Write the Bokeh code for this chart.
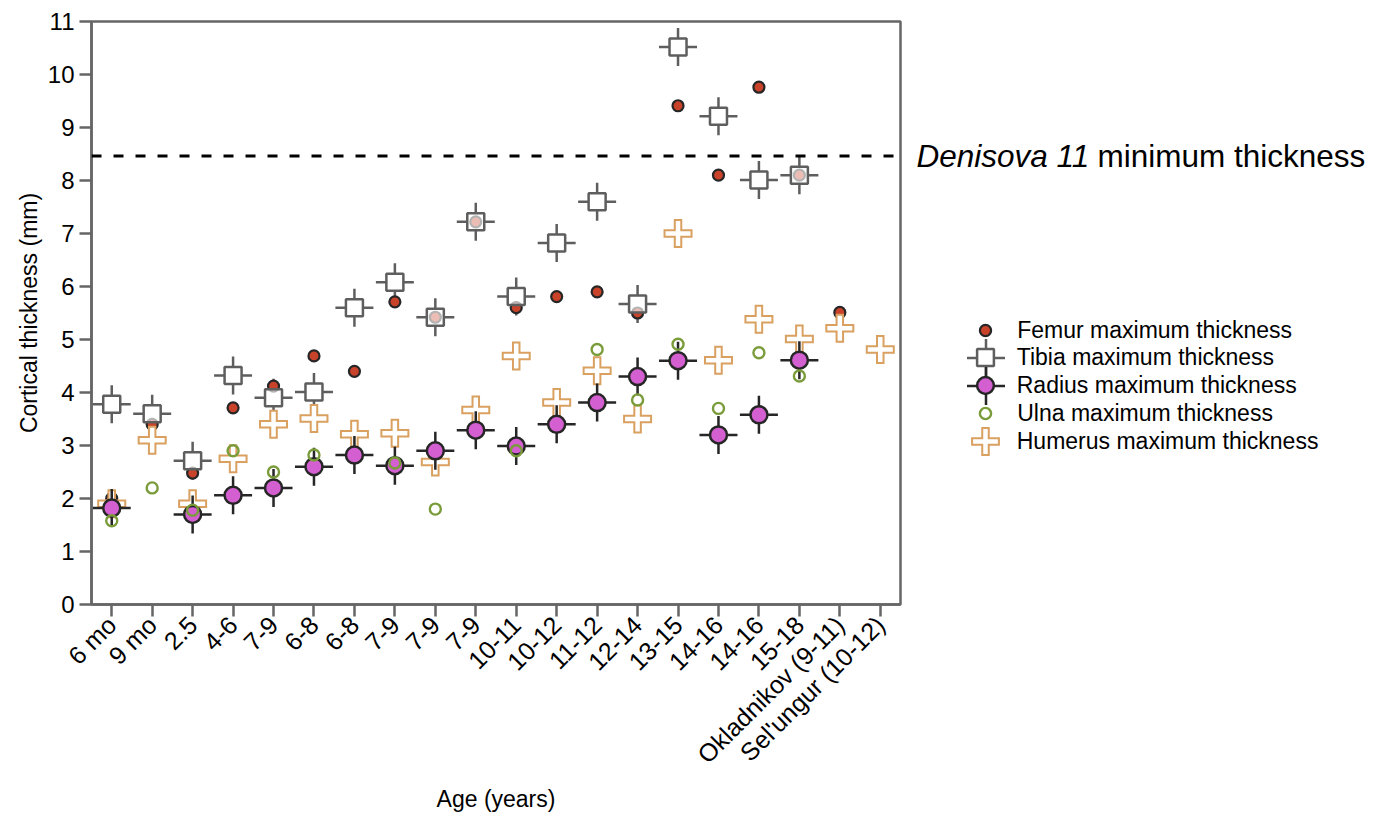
import math
from bokeh.plotting import figure
from bokeh.layouts import row
from bokeh.models import (ColumnDataSource, FixedTicker, Span, Label, Legend, LegendItem, Range1d)
from bokeh.embed import file_html
from bokeh.resources import INLINE

nan = float("nan")

# ---------------- data ----------------
ages = ["6 mo", "9 mo", "2.5", "4-6", "7-9", "6-8", "6-8", "7-9", "7-9", "7-9",
        "10-11", "10-12", "11-12", "12-14", "13-15", "14-16", "14-16", "15-18",
        "Okladnikov (9-11)", "Sel'ungur (10-12)"]
femur = [2.0, 3.4, 2.48, 3.71, 4.12, 4.69, 4.4, 5.71, 5.42, 7.22,
         5.6, 5.81, 5.9, 5.5, 9.41, 8.1, 9.76, 8.1, 5.51, nan]
tibia = [3.78, 3.6, 2.71, 4.32, 3.9, 4.01, 5.6, 6.08, 5.42, 7.22,
         5.81, 6.82, 7.6, 5.67, 10.52, 9.21, 8.01, 8.1, nan, nan]
radius = [1.82, nan, 1.7, 2.06, 2.2, 2.6, 2.82, 2.62, 2.9, 3.29,
          2.99, 3.4, 3.81, 4.3, 4.6, 3.2, 3.58, 4.61, nan, nan]
ulna = [1.58, 2.2, 1.78, 2.9, 2.5, 2.82, nan, 2.67, 1.8, nan,
        2.9, nan, 4.81, 3.86, 4.91, 3.7, 4.75, 4.31, nan, nan]
humerus = [1.9, 3.1, 1.9, 2.75, 3.4, 3.51, 3.21, 3.23, 2.69, 3.67,
           4.69, 3.81, 4.41, 3.5, 7.0, 4.61, 5.38, 5.01, 5.21, 4.81]
y_ticks = list(range(0, 12))
denisova_min = 8.46

series_names = ["Femur maximum thickness", "Tibia maximum thickness",
                "Radius maximum thickness", "Ulna maximum thickness",
                "Humerus maximum thickness"]

# ---------------- layout ----------------
W, H = 1373, 818
FL, FR, FT, FB = 91, 900, 21, 604   # main frame edges in canvas px
P1W = FR + 3                         # width of the main figure
P2W = W - P1W                        # right-hand panel (label + legend)
FONT = "Liberation Sans"

x_idx = list(range(len(ages)))
src = ColumnDataSource(dict(x=x_idx, femur=femur, tibia=tibia, radius=radius,
                            ulna=ulna, humerus=humerus))

y_range = Range1d(0, 11)
p = figure(width=P1W, height=H, output_backend="svg", toolbar_location=None,
           x_range=Range1d(-0.5, len(ages) - 0.5), y_range=y_range,
           min_border_left=FL, min_border_right=P1W - FR,
           min_border_top=FT, min_border_bottom=H - FB)
p.xgrid.visible = False
p.ygrid.visible = False
p.background_fill_color = "white"
p.border_fill_color = "white"
p.outline_line_color = "#666666"
p.outline_line_width = 2.5

AX = "#666666"
for ax in (p.xaxis[0], p.yaxis[0]):
    ax.axis_line_color = AX
    ax.axis_line_width = 2.5
    ax.major_tick_line_color = AX
    ax.major_tick_line_width = 2.5
    ax.major_tick_in = 0
    ax.major_tick_out = 12
    ax.minor_tick_line_color = None
    ax.major_label_text_font = FONT
    ax.major_label_text_color = "black"
    ax.axis_label_text_font = FONT
    ax.axis_label_text_font_size = "23px"
    ax.axis_label_text_font_style = "normal"
    ax.axis_label_text_color = "black"

p.yaxis.ticker = FixedTicker(ticks=y_ticks)
p.yaxis.axis_label = "Cortical thickness (mm)"
p.yaxis.major_label_text_font_size = "24px"
p.yaxis.major_label_standoff = 5
p.yaxis.axis_label_standoff = 3

p.xaxis.ticker = FixedTicker(ticks=x_idx)
p.xaxis.major_label_overrides = {i: lab for i, lab in enumerate(ages)}
p.xaxis.major_label_orientation = math.pi / 4
p.xaxis.major_label_text_font_size = "25px"
p.xaxis.axis_label = "Age (years)"
p.xaxis.major_label_standoff = 4
p.xaxis.axis_label_standoff = 4

# dashed reference line
p.add_layout(Span(location=denisova_min, dimension="width", line_color="black",
                  line_width=3, line_dash="10 12"))

# colours / styles
C_FEM = "#c9432b"
C_TIB = "#5e5e5e"
C_RAD = "#d35fd1"
C_ULN = "#7a9c3a"
C_HUM = "#d9a060"
C_DARK = "#262626"

styles = {
    "tib_x": dict(marker="cross", size=38, line_color=C_TIB, line_width=2.5),
    "tib_bg": dict(marker="square", size=17, fill_color="white", line_color=None),
    "fem": dict(marker="circle", size=11, fill_color=C_FEM, line_color=C_DARK, line_width=2.2),
    "tib_s": dict(marker="square", size=17, fill_color="white", fill_alpha=0.65,
                  line_color=C_TIB, line_width=2.5),
    "hum_o": dict(marker="cross", size=29, line_color=C_HUM, line_width=8.5),
    "hum_i": dict(marker="cross", size=25, line_color="white", line_width=4.5),
    "rad_x": dict(marker="cross", size=38, line_color=C_DARK, line_width=2.5),
    "rad_c": dict(marker="circle", size=17, fill_color=C_RAD, line_color=C_DARK, line_width=2.5),
    "uln": dict(marker="circle", size=11, fill_color="white", fill_alpha=0.0,
                line_color=C_ULN, line_width=2.4),
}
columns = {"fem": "femur", "tib_x": "tibia", "tib_bg": "tibia", "tib_s": "tibia",
           "hum_o": "humerus", "hum_i": "humerus", "rad_x": "radius", "rad_c": "radius",
           "uln": "ulna"}
draw_order = ["tib_x", "tib_bg", "fem", "tib_s", "hum_o", "hum_i", "rad_x", "rad_c", "uln"]
for key in draw_order:
    p.scatter("x", columns[key], source=src, **styles[key])

# ---------------- right panel: reference-line label and legend ----------------
p2 = figure(width=P2W, height=H, output_backend="svg", toolbar_location=None,
            x_range=Range1d(0, P2W), y_range=y_range,
            x_axis_type=None, y_axis_type=None,
            min_border_left=0, min_border_right=0,
            min_border_top=FT, min_border_bottom=H - FB)
p2.xgrid.visible = False
p2.ygrid.visible = False
p2.outline_line_color = None
p2.background_fill_color = "white"
p2.border_fill_color = "white"

p2.add_layout(Label(x=916 - P1W, y=denisova_min, text="Denisova 11",
                    text_font=FONT, text_font_size="31.5px", text_font_style="italic",
                    text_baseline="middle", text_color="black"))
p2.add_layout(Label(x=1097 - P1W, y=denisova_min, text="minimum thickness",
                    text_font=FONT, text_font_size="31.5px",
                    text_baseline="middle", text_color="black"))

LEG_X = 985
LEG_TEXT_X = 1017
row_y = [330, 357, 385, 413, 441]
parts = [  # (series index, style key, carries label)
    (0, "fem", True),
    (1, "tib_x", False), (1, "tib_s", True),
    (2, "rad_x", False), (2, "rad_c", True),
    (3, "uln", True),
    (4, "hum_o", False), (4, "hum_i", True),
]
for si, key, has_label in parts:
    st = dict(styles[key])
    if key == "tib_s":
        st["fill_alpha"] = 1.0
    rend = p2.scatter(x=[nan], y=[nan], **st)
    size = st["size"]
    gw = size / 0.4
    gh = max(gw, 40)
    cy = row_y[si]
    leg = Legend(items=[LegendItem(label=series_names[si] if has_label else " ",
                                   renderers=[rend])],
                 location=(LEG_X - P1W - gw / 2, FB - (cy + gh / 2)),
                 glyph_width=int(round(gw)), glyph_height=int(round(gh)),
                 label_height=20, label_standoff=int(round(LEG_TEXT_X - (LEG_X + gw / 2))),
                 padding=0, margin=0, spacing=0,
                 border_line_color=None, background_fill_alpha=0,
                 label_text_font=FONT, label_text_font_size="23px",
                 label_text_color="black", label_text_baseline="middle")
    p2.add_layout(leg, "center")

layout = row(p, p2)
open("out.html", "w").write(file_html(layout, INLINE))
